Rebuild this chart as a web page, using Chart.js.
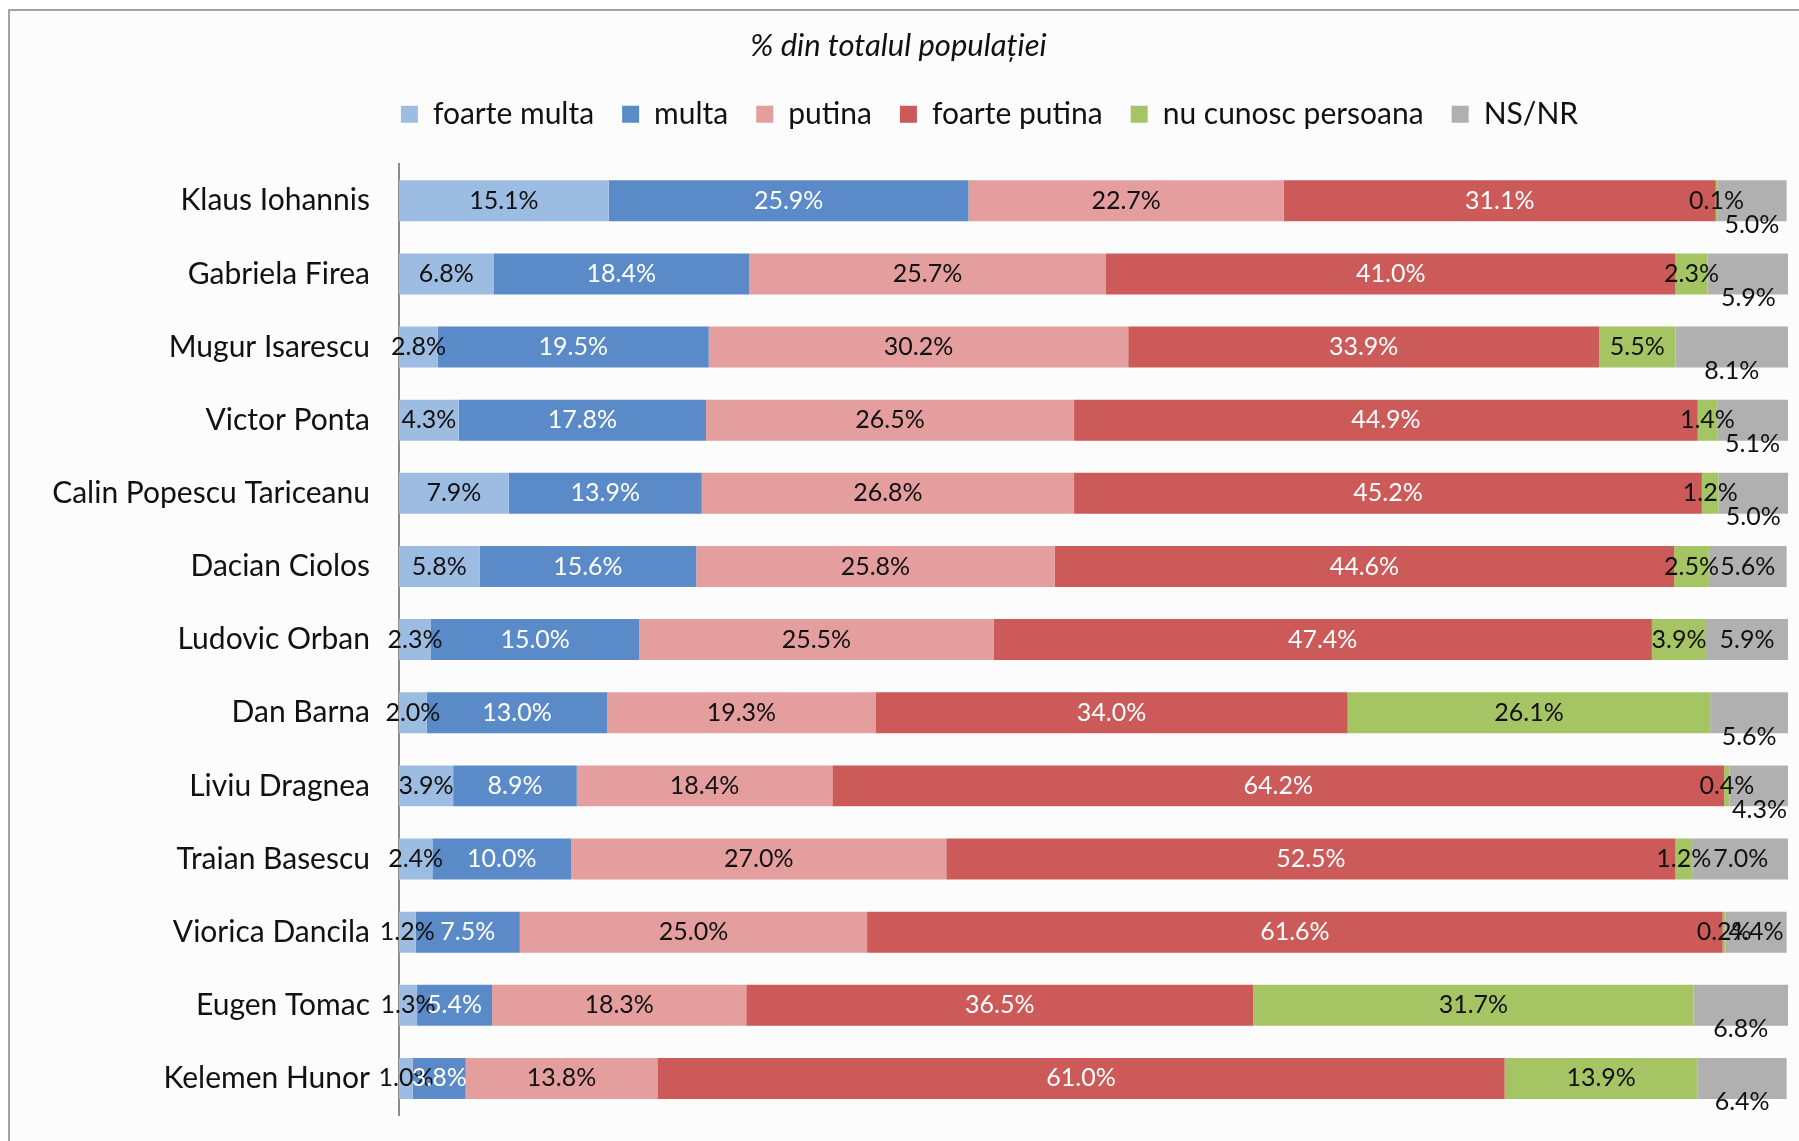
<!DOCTYPE html>
<html>
<head>
<meta charset="utf-8">
<script src="https://cdn.jsdelivr.net/npm/chart.js@4"></script>
<style>
    html, body { margin: 0; padding: 0; background: #ffffff; }
    #frame {
        position: absolute; left: 8px; top: 9px; right: 0; bottom: 0;
        border-top: 2px solid #a3a3a3; border-left: 2px solid #a3a3a3;
        background: #fcfcfc;
    }
    #chart { position: absolute; left: 0; top: 0; }
</style>
</head>
<body>
<div id="frame"></div>
<canvas id="chart" width="1799" height="1141"></canvas>
<script>
        // Date
        const candidati = ['Klaus Iohannis', 'Gabriela Firea', 'Mugur Isarescu', 'Victor Ponta',
            'Calin Popescu Tariceanu', 'Dacian Ciolos', 'Ludovic Orban', 'Dan Barna', 'Liviu Dragnea',
            'Traian Basescu', 'Viorica Dancila', 'Eugen Tomac', 'Kelemen Hunor'];

        const foarteMulta    = [15.1, 6.8, 2.8, 4.3, 7.9, 5.8, 2.3, 2.0, 3.9, 2.4, 1.2, 1.3, 1.0];
        const multa          = [25.9, 18.4, 19.5, 17.8, 13.9, 15.6, 15.0, 13.0, 8.9, 10.0, 7.5, 5.4, 3.8];
        const putina         = [22.7, 25.7, 30.2, 26.5, 26.8, 25.8, 25.5, 19.3, 18.4, 27.0, 25.0, 18.3, 13.8];
        const foartePutina   = [31.1, 41.0, 33.9, 44.9, 45.2, 44.6, 47.4, 34.0, 64.2, 52.5, 61.6, 36.5, 61.0];
        const nuCunosc       = [0.1, 2.3, 5.5, 1.4, 1.2, 2.5, 3.9, 26.1, 0.4, 1.2, 0.2, 31.7, 13.9];
        const nsNr           = [5.0, 5.9, 8.1, 5.1, 5.0, 5.6, 5.9, 5.6, 4.3, 7.0, 4.4, 6.8, 6.4];

        const FONT = 'Lato, "Noto Sans", sans-serif';

        // etichetele NS/NR coborate sub bara (ca in original)
        const nsBelow = [0, 1, 2, 3, 4, 7, 8, 11, 12];

        // Plugin pentru etichetele de date
        const labelsPlugin = {
            id: 'segmentLabels',
            afterDatasetsDraw(chart) {
                const ctx = chart.ctx;
                ctx.save();
                ctx.font = '25px ' + FONT;
                ctx.textAlign = 'center';
                ctx.textBaseline = 'middle';
                chart.data.datasets.forEach((ds, di) => {
                    const meta = chart.getDatasetMeta(di);
                    meta.data.forEach((bar, i) => {
                        const v = ds.data[i];
                        let x = (bar.x + bar.base) / 2;
                        let y = bar.y;
                        if (di === 5 && nsBelow.includes(i)) {
                            y += 24;
                        }
                        ctx.fillStyle = ds.labelColor;
                        ctx.fillText(v.toFixed(1) + '%', x, y);
                    });
                });
                ctx.restore();
            }
        };

        // spatiu suplimentar sub legenda + legenda mutata spre dreapta
        const legendGap = {
            id: 'legendGap',
            beforeInit(chart) {
                const fit = chart.legend.fit;
                chart.legend.fit = function () {
                    fit.bind(chart.legend)();
                    this.height += 25;
                };
            },
            afterLayout(chart) {
                chart.legend.left += 91;
                chart.legend.right += 91;
            }
        };

        const ctx = document.getElementById('chart').getContext('2d');
        const chart = new Chart(ctx, {
            type: 'bar',
            data: {
                labels: candidati,
                datasets: [
                    { label: 'foarte multa', data: foarteMulta, backgroundColor: '#9dbce2', labelColor: '#111' },
                    { label: 'multa', data: multa, backgroundColor: '#5a8bc8', labelColor: '#ffffff' },
                    { label: 'putina', data: putina, backgroundColor: '#e39e9d', labelColor: '#111' },
                    { label: 'foarte putina', data: foartePutina, backgroundColor: '#cb5a58', labelColor: '#ffffff' },
                    { label: 'nu cunosc persoana', data: nuCunosc, backgroundColor: '#a5c463', labelColor: '#111' },
                    { label: 'NS/NR', data: nsNr, backgroundColor: '#b0b0b0', labelColor: '#111' }
                ]
            },
            options: {
                indexAxis: 'y',
                responsive: false,
                animation: false,
                layout: { padding: { left: 9, right: 11, top: 0, bottom: 26 } },
                datasets: {
                    bar: { categoryPercentage: 1, barPercentage: 0.56, borderWidth: 0 }
                },
                plugins: {
                    title: {
                        display: true,
                        text: '% din totalul populației',
                        color: '#111',
                        font: { family: FONT, size: 31, style: 'italic', weight: 'normal' },
                        padding: { top: 27, bottom: 7 }
                    },
                    legend: {
                        display: true,
                        position: 'top',
                        labels: {
                            color: '#111',
                            font: { family: FONT, size: 30 },
                            boxWidth: 17,
                            boxHeight: 17,
                            padding: 28
                        }
                    },
                    tooltip: { enabled: false }
                },
                scales: {
                    x: {
                        stacked: true,
                        min: 0,
                        max: 100,
                        display: false
                    },
                    y: {
                        stacked: true,
                        grid: { display: false, drawTicks: false },
                        border: { display: true, color: '#8c8c8c', width: 2 },
                        ticks: {
                            color: '#111',
                            padding: 29,
                            font: { family: FONT, size: 30 }
                        },
                        afterFit(scale) {
                            scale.width = 390;
                            scale.paddingTop = 0;
                            scale.paddingBottom = 0;
                        }
                    }
                }
            },
            plugins: [labelsPlugin, legendGap]
        });
</script>
</body>
</html>
